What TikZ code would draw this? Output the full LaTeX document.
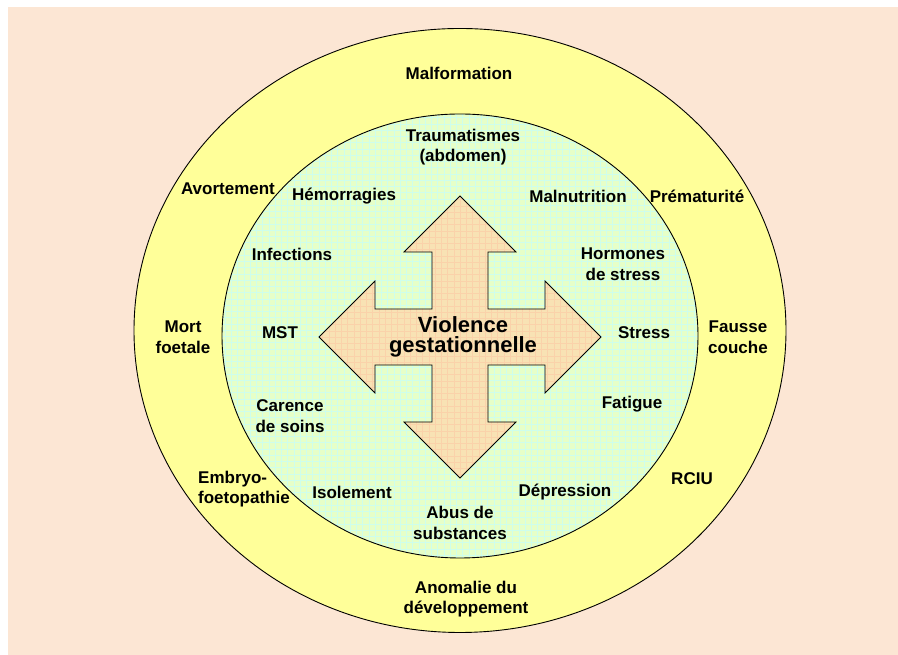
\documentclass[tikz,border=0pt]{standalone}
\usepackage{fontspec}
\setmainfont{Liberation Sans}
\definecolor{bgpeach}{RGB}{252,230,212}
\definecolor{outeryellow}{RGB}{255,255,153}
\definecolor{innergreen}{RGB}{230,255,200}
\definecolor{gridcyan}{RGB}{206,254,236}
\definecolor{arrowfill}{RGB}{248,226,180}
\definecolor{arrowgrid}{RGB}{250,210,170}
\newcommand\crossarrow{(0,141) -- (56,85) -- (28,85) -- (28,28) -- (85,28) -- (85,56) -- (141,0) -- (85,-56) -- (85,-28) -- (28,-28) -- (28,-85) -- (56,-85) -- (0,-141) -- (-56,-85) -- (-28,-85) -- (-28,-28) -- (-85,-28) -- (-85,-56) -- (-141,0) -- (-85,56) -- (-85,28) -- (-28,28) -- (-28,85) -- (-56,85) -- cycle}
\begin{document}
\begin{tikzpicture}[x=1pt,y=1pt,
  lbl/.style={font=\fontsize{17}{20.5}\selectfont\bfseries, align=center, inner sep=0pt},
  lblleft/.style={lbl, align=left},
  title/.style={font=\fontsize{22}{20}\selectfont\bfseries, align=center, inner sep=0pt},
  ring/.style={draw=black, line width=0.9pt}]
\useasboundingbox (0,0) rectangle (898,655);
\fill[white] (0,0) rectangle (898,655);
\fill[bgpeach] (8,0) rectangle (898,648);
% outer ring
\path[ring, fill=outeryellow] (460,324.5) ellipse [x radius=326, y radius=302];
% inner disc with grid
\begin{scope}
  \clip (460,319) ellipse [x radius=238, y radius=222];
  \fill[innergreen] (220,95) rectangle (700,543);
  \draw[gridcyan, line width=0.3pt, step=6.25] (218.75,93.75) grid (700,543);
\end{scope}
\path[ring] (460,319) ellipse [x radius=238, y radius=222];
% central four-way arrow
\begin{scope}[shift={(460,318)}]
  \fill[arrowfill] \crossarrow;
  \begin{scope}
    \clip \crossarrow;
    \draw[arrowgrid, line width=0.3pt, step=6.25] (-150,-150) grid (150,150);
  \end{scope}
  \draw[black, line width=0.8pt, line join=miter] \crossarrow;
\end{scope}
% labels
\node[title] (center) at (463,318) {Violence\\gestationnelle};
\node[lbl] (malf) at (459,582) {Malformation};
\node[lbl] (trauma) at (463,508) {Traumatismes\\(abdomen)};
\node[lbl] (avort) at (228,466) {Avortement};
\node[lbl] (hemo) at (344,459) {Hémorragies};
\node[lbl] (malnut) at (578,459) {Malnutrition};
\node[lbl] (prema) at (697,459) {Prématurité};
\node[lbl] (infect) at (292,401) {Infections};
\node[lbl] (hormo) at (623,391) {Hormones\\de stress};
\node[lbl] (mort) at (183,318) {Mort\\foetale};
\node[lbl] (mst) at (280,322) {MST};
\node[lbl] (stress) at (644,322) {Stress};
\node[lbl] (fausse) at (738,318) {Fausse\\couche};
\node[lbl] (carence) at (290,239) {Carence\\de soins};
\node[lbl] (fatigue) at (632,251) {Fatigue};
\node[lblleft, anchor=west] (embryo) at (198,166) {Embryo-\\foetopathie};
\node[lbl] (rciu) at (692,176) {RCIU};
\node[lbl] (isol) at (352,163) {Isolement};
\node[lbl] (depr) at (565,163) {Dépression};
\node[lbl] (abus) at (460,132) {Abus de\\substances};
\node[lbl] (anom) at (466,56) {Anomalie du\\développement};
\end{tikzpicture}
\end{document}
